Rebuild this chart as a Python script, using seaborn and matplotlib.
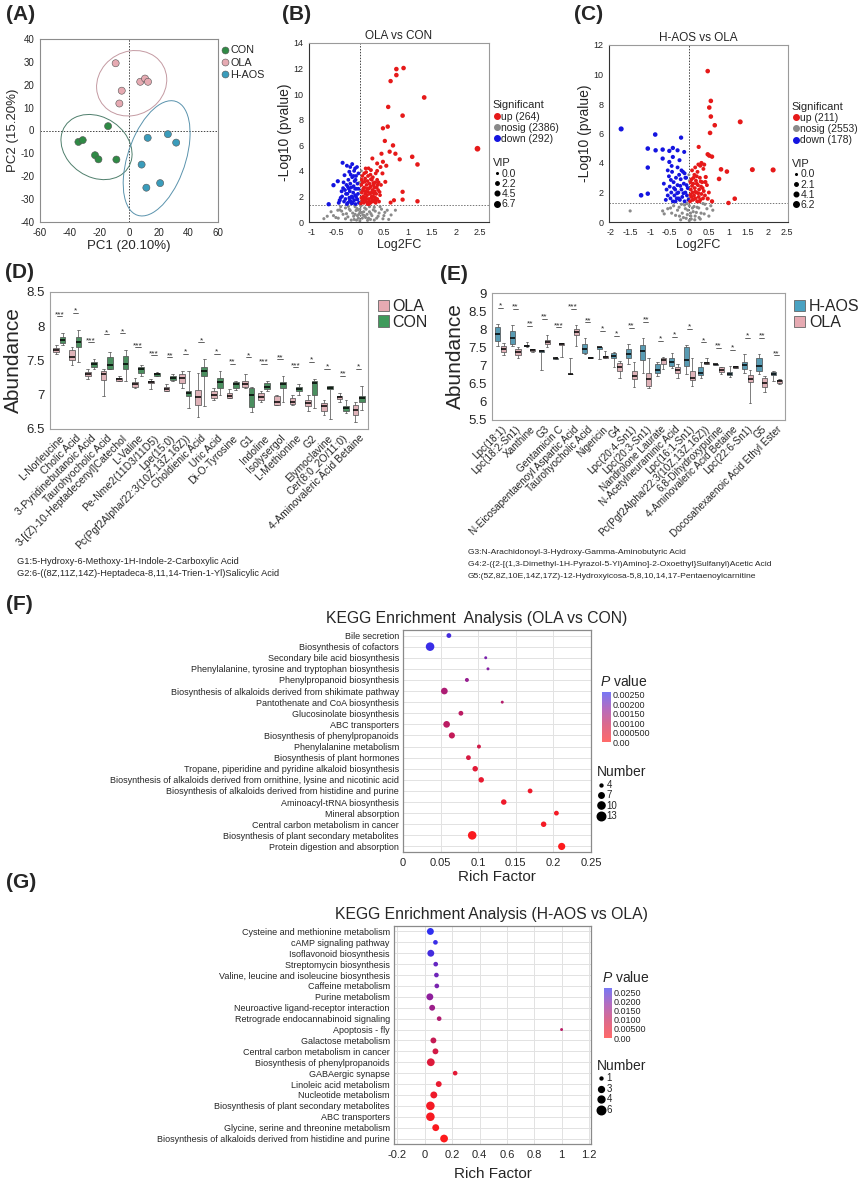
import numpy as np
import pandas as pd
import matplotlib
matplotlib.use("Agg")
import matplotlib.pyplot as plt
import seaborn as sns
from matplotlib.patches import Ellipse, Patch
from matplotlib.lines import Line2D
from matplotlib.colors import LinearSegmentedColormap, Normalize
import matplotlib.cm as cm

W, H = 865, 1182

# ---------------- panel A : PCA ----------------
pca_groups = ["CON", "OLA", "H-AOS"]
con_pc1 = [-14.1, -34.1, -31.2, -22.9, -20.6, -8.5]
con_pc2 = [1.9, -5.0, -4.2, -10.8, -12.6, -12.7]
ola_pc1 = [-9.0, 7.6, 10.8, 12.8, -4.9, -6.5]
ola_pc2 = [29.4, 21.3, 22.7, 21.3, 17.4, 11.8]
haos_pc1 = [12.6, 26.2, 31.8, 8.5, 21.0, 11.7]
haos_pc2 = [-3.2, -1.6, -5.3, -14.9, -23.0, -25.0]

# ---------------- panel B / C : volcano ([log2FC, -log10 p, VIP]) ----------------
b_counts = {"up": 264, "nosig": 2386, "down": 292}
b_vip_ticks = [0.0, 2.2, 4.5, 6.7]
b_up = [
    [0.91, 12.04, 3.0], [0.76, 11.96, 3.0], [0.76, 11.49, 3.0], [0.64, 11.02, 2.8],
    [1.34, 9.74, 3.2], [0.59, 9.0, 2.8], [0.89, 8.32, 3.0], [0.58, 7.46, 2.8],
    [0.48, 7.33, 2.6], [2.45, 5.73, 5.0], [0.69, 5.99, 2.8], [1.09, 5.1, 3.0],
    [0.62, 5.5, 2.6], [0.74, 5.34, 2.6], [0.52, 6.34, 2.6], [0.45, 5.34, 2.4],
    [1.2, 4.5, 3.0], [0.83, 4.9, 2.6], [0.55, 4.4, 2.4], [0.48, 4.71, 2.4],
    [0.36, 4.58, 2.2], [0.26, 4.97, 2.2], [0.53, 3.14, 2.2], [0.89, 2.36, 2.6],
    [0.89, 1.75, 2.6], [1.2, 1.62, 2.8], [0.71, 1.7, 2.4], [0.64, 1.52, 2.2],
    [0.47, 3.8, 2.2], [0.36, 4.0, 2.0], [0.23, 4.06, 2.0], [0.12, 4.19, 1.8],
    [0.43, 4.3, 2.0],
    [0.02, 1.45, 1.8], [0.04, 2.3, 1.8], [0.05, 1.7, 1.8], [0.06, 3.1, 1.8],
    [0.07, 2.0, 1.8], [0.08, 1.5, 1.8], [0.09, 2.7, 1.8], [0.1, 1.9, 1.8],
    [0.11, 3.4, 1.8], [0.12, 2.4, 1.8], [0.13, 1.6, 1.8], [0.14, 2.9, 1.8],
    [0.15, 2.1, 1.8], [0.16, 1.4, 1.8], [0.17, 3.6, 1.8], [0.18, 2.6, 1.8],
    [0.19, 1.8, 1.8], [0.2, 3.0, 1.8], [0.21, 2.2, 1.8], [0.22, 1.5, 1.8],
    [0.23, 2.8, 1.8], [0.24, 1.9, 1.8], [0.25, 3.3, 1.8], [0.26, 2.5, 1.8],
    [0.27, 1.6, 1.8], [0.28, 2.0, 1.8], [0.29, 2.9, 1.8], [0.3, 1.7, 1.8],
    [0.31, 2.4, 1.8], [0.32, 3.1, 1.8], [0.33, 1.5, 1.8], [0.34, 2.2, 1.8],
    [0.35, 2.7, 1.8], [0.36, 1.8, 1.8], [0.38, 2.5, 1.8], [0.4, 1.6, 1.8],
    [0.42, 2.1, 1.8], [0.44, 2.9, 1.8], [0.03, 2.9, 1.8], [0.05, 3.6, 1.8],
    [0.09, 3.8, 1.8], [0.13, 3.9, 1.8], [0.18, 4.2, 1.8], [0.22, 3.7, 1.8],
    [0.27, 3.5, 1.8], [0.33, 3.8, 1.8], [0.15, 2.6, 1.8], [0.2, 1.6, 1.8],
    [0.25, 2.0, 1.8], [0.3, 2.7, 1.8], [0.12, 1.9, 1.8], [0.07, 2.6, 1.8],
    [0.24, 2.3, 1.8], [0.18, 1.55, 1.8], [0.36, 3.3, 1.8],
    [0.03, 1.9, 1.8], [0.06, 2.45, 1.8], [0.1, 3.15, 1.8], [0.14, 1.8, 1.8],
    [0.17, 2.35, 1.8], [0.21, 2.7, 1.8], [0.26, 1.75, 1.8], [0.29, 2.25, 1.8],
    [0.32, 1.9, 1.8], [0.37, 2.9, 1.8], [0.41, 2.35, 1.8], [0.08, 1.75, 1.8],
    [0.16, 3.2, 1.8], [0.23, 3.35, 1.8], [0.28, 3.05, 1.8], [0.34, 1.7, 1.8],
    [0.39, 3.1, 1.8], [0.11, 2.2, 1.8], [0.19, 1.4, 1.8], [0.04, 3.3, 1.8],
]
b_down = [
    [-0.36, 4.63, 2.2], [-0.16, 4.53, 2.0], [-0.27, 4.4, 2.0], [-0.55, 2.88, 2.6],
    [-0.46, 3.19, 2.4], [-0.65, 1.39, 2.6], [-0.42, 1.7, 2.2], [-0.22, 3.93, 2.0],
    [-0.1, 4.19, 1.8], [-0.32, 3.66, 2.0], [-0.38, 2.4, 2.0], [-0.44, 1.5, 2.0],
    [-0.2, 4.3, 1.8],
    [-0.02, 1.5, 1.8], [-0.04, 2.2, 1.8], [-0.05, 3.0, 1.8], [-0.06, 1.8, 1.8],
    [-0.07, 2.6, 1.8], [-0.08, 3.6, 1.8], [-0.09, 1.4, 1.8], [-0.1, 2.1, 1.8],
    [-0.11, 3.2, 1.8], [-0.12, 1.7, 1.8], [-0.13, 2.8, 1.8], [-0.14, 2.3, 1.8],
    [-0.15, 1.5, 1.8], [-0.16, 3.5, 1.8], [-0.17, 2.0, 1.8], [-0.18, 2.7, 1.8],
    [-0.19, 1.6, 1.8], [-0.2, 3.0, 1.8], [-0.21, 2.4, 1.8], [-0.22, 1.9, 1.8],
    [-0.24, 3.3, 1.8], [-0.25, 1.5, 1.8], [-0.26, 2.2, 1.8], [-0.28, 2.9, 1.8],
    [-0.3, 1.8, 1.8], [-0.31, 2.5, 1.8], [-0.33, 1.6, 1.8], [-0.34, 3.1, 1.8],
    [-0.27, 1.4, 1.8], [-0.03, 3.8, 1.8], [-0.12, 4.0, 1.8], [-0.06, 4.3, 1.8],
    [-0.23, 2.6, 1.8], [-0.15, 1.9, 1.8], [-0.1, 2.6, 1.8], [-0.37, 2.0, 1.8],
    [-0.03, 2.6, 1.8], [-0.08, 2.0, 1.8], [-0.13, 3.6, 1.8], [-0.17, 1.45, 1.8],
    [-0.21, 1.7, 1.8], [-0.25, 2.75, 1.8], [-0.29, 2.2, 1.8], [-0.35, 2.65, 1.8],
    [-0.4, 1.9, 1.8], [-0.05, 1.75, 1.8], [-0.09, 3.3, 1.8], [-0.19, 3.7, 1.8],
]
b_nosig = [
    [-0.75, 0.26, 1.0], [-0.46, 0.92, 1.0], [0.57, 0.92, 1.0], [0.74, 0.92, 1.0],
    [0.16, 0.13, 1.0], [-0.3, 1.1, 1.0], [-0.2, 0.9, 1.0], [-0.1, 1.2, 1.0],
    [0.0, 1.0, 1.0], [0.1, 1.1, 1.0], [0.2, 0.8, 1.0], [0.3, 1.15, 1.0],
    [0.4, 0.7, 1.0], [-0.35, 0.6, 1.0], [-0.25, 0.4, 1.0], [-0.15, 0.7, 1.0],
    [-0.05, 0.5, 1.0], [0.05, 0.3, 1.0], [0.15, 0.6, 1.0], [0.25, 0.5, 1.0],
    [0.35, 0.3, 1.0], [-0.12, 0.2, 1.0], [0.0, 0.1, 1.0], [0.08, 0.8, 1.0],
    [-0.08, 0.9, 1.0], [0.45, 1.0, 1.0], [0.5, 0.5, 1.0], [-0.5, 0.35, 1.0],
    [0.02, 1.25, 1.0], [-0.02, 0.6, 1.0], [0.12, 0.35, 1.0], [-0.18, 0.15, 1.0],
    [0.22, 0.2, 1.0], [0.6, 0.2, 1.0], [-0.6, 0.8, 1.0], [0.28, 0.95, 1.0],
    [-0.4, 1.2, 1.0], [0.02, 1.6, 0.8], [0.01, 2.4, 0.8], [-0.01, 3.1, 0.8],
    [0.03, 4.0, 0.8], [-0.03, 0.3, 1.0], [0.06, 0.55, 1.0], [-0.07, 0.15, 1.0],
    [-0.55, 0.5, 1.0], [-0.45, 0.3, 1.0], [-0.38, 0.85, 1.0], [-0.28, 0.65, 1.0],
    [-0.22, 1.0, 1.0], [-0.13, 0.45, 1.0], [-0.06, 1.05, 1.0], [0.04, 0.75, 1.0],
    [0.09, 0.5, 1.0], [0.13, 1.0, 1.0], [0.18, 0.3, 1.0], [0.23, 0.65, 1.0],
    [0.32, 0.85, 1.0], [0.38, 0.45, 1.0], [0.42, 1.2, 1.0], [0.52, 0.75, 1.0],
    [0.65, 0.55, 1.0], [-0.68, 0.45, 1.0], [-0.3, 0.25, 1.0], [0.3, 0.15, 1.0],
    [-0.1, 0.6, 1.0], [0.1, 0.45, 1.0], [0.0, 0.75, 1.0], [-0.04, 0.95, 1.0],
    [0.2, 1.2, 1.0], [-0.24, 1.22, 1.0], [0.48, 0.25, 1.0], [-0.42, 0.95, 1.0],
]

c_counts = {"up": 211, "nosig": 2553, "down": 178}
c_vip_ticks = [0.0, 2.1, 4.1, 6.2]
c_up = [
    [0.47, 10.23, 2.8], [0.55, 8.21, 2.8], [0.51, 7.76, 2.8], [0.55, 7.15, 2.8],
    [0.65, 6.56, 2.8], [0.53, 6.04, 2.8], [1.3, 6.79, 3.4], [1.61, 3.55, 3.4],
    [2.14, 3.53, 3.6], [0.81, 3.57, 2.8], [0.96, 3.42, 2.8], [0.76, 2.92, 2.8],
    [0.47, 4.59, 2.6], [0.51, 4.5, 2.6], [0.58, 4.43, 2.6], [0.24, 5.09, 2.2],
    [0.31, 4.0, 2.2], [0.28, 3.82, 2.2], [0.38, 3.89, 2.2], [1.16, 1.58, 2.8],
    [1.0, 1.29, 2.6], [0.58, 1.4, 2.4], [0.47, 1.58, 2.2], [0.42, 3.05, 2.2],
    [0.41, 2.71, 2.2],
    [0.02, 1.4, 1.8], [0.04, 2.2, 1.8], [0.05, 1.7, 1.8], [0.06, 2.9, 1.8],
    [0.08, 2.0, 1.8], [0.09, 1.5, 1.8], [0.1, 2.6, 1.8], [0.12, 1.8, 1.8],
    [0.13, 3.2, 1.8], [0.14, 2.3, 1.8], [0.16, 1.6, 1.8], [0.17, 2.8, 1.8],
    [0.18, 2.0, 1.8], [0.2, 1.4, 1.8], [0.21, 3.4, 1.8], [0.22, 2.5, 1.8],
    [0.24, 1.7, 1.8], [0.25, 2.2, 1.8], [0.27, 3.0, 1.8], [0.28, 1.5, 1.8],
    [0.3, 2.4, 1.8], [0.31, 1.9, 1.8], [0.33, 2.7, 1.8], [0.35, 1.6, 1.8],
    [0.37, 2.1, 1.8], [0.4, 1.8, 1.8], [0.07, 3.5, 1.8], [0.11, 3.0, 1.8],
    [0.15, 3.7, 1.8], [0.19, 2.6, 1.8], [0.26, 1.4, 1.8], [0.03, 2.7, 1.8],
    [0.36, 3.6, 1.8], [0.45, 2.5, 1.8], [0.5, 2.0, 1.8], [0.23, 3.9, 1.8],
    [0.03, 1.85, 1.8], [0.07, 2.45, 1.8], [0.11, 1.55, 1.8], [0.15, 2.05, 1.8],
    [0.19, 3.1, 1.8], [0.23, 1.95, 1.8], [0.29, 2.75, 1.8], [0.34, 2.3, 1.8],
]
c_down = [
    [-1.74, 6.31, 3.6], [-0.87, 5.93, 2.8], [-0.21, 5.72, 2.4], [-1.06, 4.98, 2.8],
    [-0.86, 4.86, 2.6], [-0.68, 4.91, 2.6], [-0.42, 5.02, 2.4], [-0.3, 4.86, 2.2],
    [-0.51, 4.82, 2.4], [-1.23, 1.81, 2.8], [-1.06, 1.92, 2.6], [-1.06, 3.69, 2.6],
    [-0.51, 4.07, 2.2], [-0.68, 4.3, 2.4], [-0.42, 4.41, 2.2], [-0.25, 4.19, 2.0],
    [-0.13, 4.75, 2.0],
    [-0.02, 1.5, 1.8], [-0.04, 2.3, 1.8], [-0.06, 1.8, 1.8], [-0.08, 3.0, 1.8],
    [-0.1, 2.0, 1.8], [-0.12, 1.4, 1.8], [-0.14, 2.6, 1.8], [-0.16, 3.4, 1.8],
    [-0.18, 1.7, 1.8], [-0.2, 2.2, 1.8], [-0.22, 2.9, 1.8], [-0.24, 1.5, 1.8],
    [-0.26, 3.2, 1.8], [-0.28, 2.0, 1.8], [-0.3, 2.5, 1.8], [-0.32, 1.6, 1.8],
    [-0.34, 3.0, 1.8], [-0.36, 2.2, 1.8], [-0.38, 1.8, 1.8], [-0.4, 2.7, 1.8],
    [-0.42, 1.4, 1.8], [-0.44, 3.4, 1.8], [-0.46, 2.0, 1.8], [-0.48, 1.6, 1.8],
    [-0.5, 2.4, 1.8], [-0.52, 3.1, 1.8], [-0.55, 1.8, 1.8], [-0.58, 2.2, 1.8],
    [-0.6, 1.5, 1.8], [-0.3, 3.7, 1.8], [-0.45, 3.8, 1.8], [-0.2, 3.5, 1.8],
    [-0.1, 3.0, 1.8], [-0.65, 2.6, 1.8], [-0.55, 3.5, 1.8], [-0.35, 1.4, 1.8],
    [-0.07, 2.5, 1.8], [-0.15, 1.95, 1.8], [-0.23, 2.45, 1.8], [-0.31, 1.95, 1.8],
    [-0.39, 2.3, 1.8], [-0.47, 2.85, 1.8], [-0.27, 1.6, 1.8], [-0.12, 3.3, 1.8],
]
c_nosig = [
    [-1.51, 0.75, 1.0], [-0.68, 0.75, 1.0], [-0.64, 0.55, 1.0], [-0.55, 0.9, 1.0],
    [-0.4, 1.1, 1.0], [-0.3, 0.8, 1.0], [-0.2, 1.2, 1.0], [-0.1, 0.9, 1.0],
    [0.0, 1.1, 1.0], [0.1, 0.7, 1.0], [0.2, 1.0, 1.0], [0.3, 0.6, 1.0],
    [0.4, 1.2, 1.0], [0.5, 0.4, 1.0], [0.6, 0.8, 1.0], [-0.15, 0.3, 1.0],
    [0.05, 0.2, 1.0], [0.15, 0.4, 1.0], [-0.05, 0.5, 1.0], [0.0, 0.1, 1.0],
    [-0.25, 0.4, 1.0], [0.25, 0.3, 1.0], [0.03, 0.6, 1.0], [-0.02, 1.6, 0.8],
    [0.01, 2.2, 0.8], [0.0, 2.8, 0.8], [-0.01, 3.2, 0.8], [0.45, 0.9, 1.0],
    [-0.45, 0.6, 1.0], [0.35, 1.25, 1.0], [0.08, 0.95, 1.0], [-0.08, 0.25, 1.0],
    [-0.35, 0.45, 1.0], [-0.26, 1.0, 1.0], [-0.18, 0.6, 1.0], [-0.12, 1.15, 1.0],
    [-0.04, 0.8, 1.0], [0.04, 0.4, 1.0], [0.12, 1.05, 1.0], [0.18, 0.65, 1.0],
    [0.24, 0.95, 1.0], [0.28, 0.2, 1.0], [0.38, 0.55, 1.0], [-0.48, 0.95, 1.0],
    [0.55, 1.1, 1.0], [-0.22, 0.15, 1.0], [0.14, 0.15, 1.0], [-0.06, 1.25, 1.0],
]

# ---------------- panel D / E : box plots ([min, q1, median, q3, max]) ----------------
d_names = ["L-Norleucine", "Cholic Acid", "3-Pyridinebutanoic Acid", "Taurohyocholic Acid",
           "3-[(Z)-10-Heptadecenyl]Catechol", "L-Valine", "Pe-Nme2(11D3/11D5)", "Lpe(15:0)",
           "Pc(Pgf2Alpha/22:3(10Z,13Z,16Z))", "Choldienic Acid", "Uric Acid", "Di-O-Tyrosine",
           "G1", "Indoline", "Isolysergol", "L-Methionine", "G2", "Elymoclavine",
           "Cer(8:0_2O/11:0)", "4-Aminovaleric Acid Betaine"]
d_stars = ["***", "*", "***", "*", "*", "***", "***", "**", "*", "*", "*", "**", "*",
           "***", "**", "***", "*", "*", "**", "*"]
d_ola = [[7.60, 7.62, 7.65, 7.68, 7.72], [7.44, 7.50, 7.55, 7.65, 7.70],
         [7.23, 7.27, 7.30, 7.33, 7.37], [6.98, 7.22, 7.30, 7.35, 7.38],
         [7.20, 7.20, 7.23, 7.25, 7.28], [7.10, 7.12, 7.15, 7.18, 7.25],
         [7.08, 7.17, 7.18, 7.20, 7.23], [7.05, 7.05, 7.08, 7.12, 7.15],
         [7.10, 7.17, 7.25, 7.30, 7.35], [6.68, 6.85, 6.97, 7.07, 7.32],
         [6.92, 6.95, 7.00, 7.05, 7.10], [6.95, 6.95, 6.98, 7.02, 7.08],
         [7.10, 7.12, 7.15, 7.20, 7.30], [6.90, 6.93, 6.97, 7.02, 7.05],
         [6.85, 6.85, 6.90, 6.98, 7.00], [6.85, 6.87, 6.90, 6.95, 7.00],
         [6.77, 6.83, 6.88, 6.93, 7.00], [6.70, 6.77, 6.83, 6.88, 6.92],
         [6.90, 6.94, 6.96, 6.98, 7.03], [6.60, 6.70, 6.78, 6.85, 6.90]]
d_con = [[7.72, 7.75, 7.80, 7.85, 7.90], [7.48, 7.70, 7.77, 7.85, 7.95],
         [7.37, 7.40, 7.45, 7.48, 7.52], [7.38, 7.38, 7.43, 7.55, 7.63],
         [7.20, 7.38, 7.45, 7.57, 7.65], [7.28, 7.32, 7.37, 7.40, 7.44],
         [7.27, 7.28, 7.30, 7.32, 7.33], [7.20, 7.22, 7.25, 7.28, 7.30],
         [6.80, 6.98, 7.02, 7.06, 7.35], [6.83, 7.28, 7.35, 7.40, 7.52],
         [7.00, 7.10, 7.18, 7.25, 7.35], [7.07, 7.10, 7.15, 7.18, 7.20],
         [6.75, 6.82, 7.00, 7.10, 7.12], [7.06, 7.08, 7.12, 7.17, 7.20],
         [6.90, 7.10, 7.15, 7.18, 7.27], [7.00, 7.05, 7.08, 7.12, 7.15],
         [6.80, 7.00, 7.17, 7.20, 7.23], [6.65, 7.08, 7.10, 7.13, 7.13],
         [6.73, 6.76, 6.80, 6.84, 6.92], [6.78, 6.90, 6.95, 6.98, 7.13]]
d_notes = ["G1:5-Hydroxy-6-Methoxy-1H-Indole-2-Carboxylic Acid",
           "G2:6-((8Z,11Z,14Z)-Heptadeca-8,11,14-Trien-1-Yl)Salicylic Acid"]

e_names = ["Lpc(18:1)", "Lpc(18:2-Sn1)", "Xanthine", "G3", "Gentamicin C",
           "N-Eicosapentaenoyl Aspartic Acid", "Taurohyocholic Acid", "Nigericin", "G4",
           "Lpc(20:4-Sn1)", "Lpc(20:3-Sn1)", "Nandrolone Laurate", "N-Acetylneuraminic Acid",
           "Lpc(16:1-Sn1)", "Pc(Pgf2Alpha/22:3(10Z,13Z,16Z))", "6,8-Dihydroxypurine",
           "4-Aminovaleric Acid Betaine", "Lpc(22:6-Sn1)", "G5",
           "Docosahexaenoic Acid Ethyl Ester"]
e_stars = ["*", "**", "**", "**", "***", "***", "**", "*", "*", "**", "**", "*", "*",
           "*", "*", "**", "*", "*", "**", "**"]
e_haos = [[7.55, 7.68, 7.88, 8.05, 8.15], [7.55, 7.60, 7.75, 7.95, 8.12],
          [7.50, 7.53, 7.55, 7.57, 7.65], [6.87, 7.38, 7.40, 7.42, 7.42],
          [7.18, 7.18, 7.20, 7.22, 7.25], [6.76, 6.76, 6.77, 6.78, 7.20],
          [7.32, 7.35, 7.47, 7.60, 7.75], [7.18, 7.47, 7.50, 7.52, 7.52],
          [6.95, 7.20, 7.27, 7.35, 7.38], [7.05, 7.22, 7.33, 7.45, 7.60],
          [6.80, 7.15, 7.40, 7.57, 7.77], [6.72, 6.80, 6.87, 7.05, 7.10],
          [6.92, 7.00, 7.10, 7.22, 7.35], [6.78, 7.00, 7.15, 7.50, 7.58],
          [6.67, 6.75, 6.80, 6.95, 7.10], [7.02, 7.02, 7.03, 7.04, 7.05],
          [6.68, 6.75, 6.78, 6.82, 7.00], [6.80, 6.90, 7.02, 7.10, 7.32],
          [6.78, 6.85, 7.00, 7.20, 7.32], [6.57, 6.73, 6.77, 6.82, 6.85]]
e_ola = [[7.30, 7.37, 7.47, 7.55, 7.62], [7.20, 7.28, 7.37, 7.45, 7.50],
         [7.38, 7.40, 7.42, 7.45, 7.47], [7.50, 7.60, 7.65, 7.70, 7.85],
         [7.25, 7.58, 7.60, 7.62, 7.62], [7.55, 7.85, 7.92, 8.00, 8.12],
         [7.20, 7.20, 7.22, 7.25, 7.25], [7.22, 7.22, 7.25, 7.27, 7.40],
         [6.65, 6.85, 6.95, 7.08, 7.12], [6.42, 6.62, 6.72, 6.85, 7.10],
         [6.38, 6.45, 6.62, 6.80, 7.20], [6.90, 7.05, 7.15, 7.20, 7.25],
         [6.67, 6.80, 6.87, 6.97, 7.05], [6.45, 6.60, 6.67, 6.85, 7.20],
         [7.03, 7.03, 7.08, 7.10, 7.20], [6.78, 6.82, 6.88, 6.95, 6.97],
         [6.92, 6.93, 6.96, 6.98, 7.00], [5.98, 6.55, 6.63, 6.75, 6.88],
         [6.28, 6.42, 6.53, 6.65, 6.72], [6.50, 6.53, 6.57, 6.60, 6.62]]
e_notes = ["G3:N-Arachidonoyl-3-Hydroxy-Gamma-Aminobutyric Acid",
           "G4:2-({2-[(1,3-Dimethyl-1H-Pyrazol-5-Yl)Amino]-2-Oxoethyl}Sulfanyl)Acetic Acid",
           "G5:(5Z,8Z,10E,14Z,17Z)-12-Hydroxyicosa-5,8,10,14,17-Pentaenoylcarnitine"]

# ---------------- panel F / G : KEGG bubbles ----------------
f_path = ["Bile secretion", "Biosynthesis of cofactors", "Secondary bile acid biosynthesis",
          "Phenylalanine, tyrosine and tryptophan biosynthesis", "Phenylpropanoid biosynthesis",
          "Biosynthesis of alkaloids derived from shikimate pathway",
          "Pantothenate and CoA biosynthesis", "Glucosinolate biosynthesis", "ABC transporters",
          "Biosynthesis of phenylpropanoids", "Phenylalanine metabolism",
          "Biosynthesis of plant hormones", "Tropane, piperidine and pyridine alkaloid biosynthesis",
          "Biosynthesis of alkaloids derived from ornithine, lysine and nicotinic acid",
          "Biosynthesis of alkaloids derived from histidine and purine",
          "Aminoacyl-tRNA biosynthesis", "Mineral absorption",
          "Central carbon metabolism in cancer", "Biosynthesis of plant secondary metabolites",
          "Protein digestion and absorption"]
f_rich = [0.061, 0.036, 0.110, 0.113, 0.085, 0.055, 0.132, 0.077, 0.058, 0.065,
          0.101, 0.087, 0.096, 0.104, 0.169, 0.134, 0.204, 0.187, 0.092, 0.211]
f_p = [0.0024, 0.0025, 0.0019, 0.0018, 0.0016, 0.0013, 0.0012, 0.0011, 0.0011, 0.0010,
       0.0008, 0.0007, 0.0005, 0.0004, 0.0003, 0.0003, 0.0002, 0.0002, 0.0001, 0.00005]
f_num = [6, 13, 4, 4, 5, 9, 4, 6, 9, 8, 5, 6, 7, 7, 6, 7, 6, 7, 13, 10]

g_path = ["Cysteine and methionine metabolism", "cAMP signaling pathway",
          "Isoflavonoid biosynthesis", "Streptomycin biosynthesis",
          "Valine, leucine and isoleucine biosynthesis", "Caffeine metabolism",
          "Purine metabolism", "Neuroactive ligand-receptor interaction",
          "Retrograde endocannabinoid signaling", "Apoptosis - fly", "Galactose metabolism",
          "Central carbon metabolism in cancer", "Biosynthesis of phenylpropanoids",
          "GABAergic synapse", "Linoleic acid metabolism", "Nucleotide metabolism",
          "Biosynthesis of plant secondary metabolites", "ABC transporters",
          "Glycine, serine and threonine metabolism",
          "Biosynthesis of alkaloids derived from histidine and purine"]
g_rich = [0.041, 0.078, 0.044, 0.080, 0.085, 0.088, 0.037, 0.054, 0.105, 1.0,
          0.063, 0.078, 0.044, 0.222, 0.102, 0.066, 0.041, 0.041, 0.080, 0.141]
g_p = [0.028, 0.026, 0.025, 0.022, 0.021, 0.020, 0.018, 0.016, 0.013, 0.012,
       0.010, 0.008, 0.006, 0.005, 0.004, 0.003, 0.002, 0.0015, 0.001, 0.0005]
g_num = [4, 2, 4, 2, 2, 2, 4, 3, 2, 1, 3, 3, 5, 2, 3, 4, 6, 6, 4, 5]

# ---------------- style ----------------
sns.set_theme(style="white")
plt.rcParams["font.family"] = ["Liberation Sans", "DejaVu Sans"]
plt.rcParams["mathtext.fontset"] = "custom"
plt.rcParams["mathtext.it"] = "Liberation Sans:italic"
plt.rcParams["mathtext.rm"] = "Liberation Sans"
plt.rcParams["axes.unicode_minus"] = False

col_con, col_ola, col_haos = "#2f8a45", "#e6aab2", "#3a9cbb"
col_up, col_down, col_ns = "#e61919", "#1414e0", "#8a8a8a"
frame = "#8c8c8c"

fig = plt.figure(figsize=(W / 100, H / 100), dpi=100)


def ax_at(l, t, r, b):
    return fig.add_axes([l / W, 1 - b / H, (r - l) / W, (b - t) / H])


def style_frame(ax, color=frame, lw=0.8):
    for s in ax.spines.values():
        s.set_color(color)
        s.set_linewidth(lw)
    ax.tick_params(direction="out", length=2.5, width=0.6, color="#444444", pad=1.5)


def panel_label(x, y, s):
    fig.text(x / W, 1 - y / H, s, fontsize=15, fontweight="bold", va="center", ha="left")


# ---------------- A ----------------
axA = ax_at(40, 39, 218, 222)
dfA = pd.DataFrame({
    "PC1": con_pc1 + ola_pc1 + haos_pc1,
    "PC2": con_pc2 + ola_pc2 + haos_pc2,
    "group": ["CON"] * len(con_pc1) + ["OLA"] * len(ola_pc1) + ["H-AOS"] * len(haos_pc1),
})
pal_A = {"CON": col_con, "OLA": col_ola, "H-AOS": col_haos}
ell_col = {"CON": "#4f7f6c", "OLA": "#c49aa2", "H-AOS": "#5a93ad"}
for g, sub in dfA.groupby("group"):
    cov = np.cov(sub.PC1, sub.PC2)
    vals, vecs = np.linalg.eigh(cov)
    ang = np.degrees(np.arctan2(vecs[1, 1], vecs[0, 1]))
    k = 2.45
    axA.add_patch(Ellipse((sub.PC1.mean(), sub.PC2.mean()), 2 * k * np.sqrt(vals[1]),
                          2 * k * np.sqrt(vals[0]), angle=ang, fill=False,
                          ec=ell_col[g], lw=0.7, zorder=1))
axA.axhline(0, color="#444444", lw=0.7, ls=(0, (1.5, 1.5)), zorder=0)
axA.axvline(0, color="#444444", lw=0.7, ls=(0, (1.5, 1.5)), zorder=0)
sns.scatterplot(data=dfA, x="PC1", y="PC2", hue="group", palette=pal_A, s=26,
                edgecolor="#555555", linewidth=0.4, legend=False, ax=axA, zorder=3)
axA.set_xlim(-60, 60)
axA.set_ylim(-40, 40)
axA.set_xticks(range(-60, 61, 20))
axA.set_yticks(range(-40, 41, 10))
axA.tick_params(labelsize=7)
axA.set_xlabel("PC1 (20.10%)", fontsize=9.5, labelpad=2)
axA.set_ylabel("PC2 (15.20%)", fontsize=9.5, labelpad=1)
style_frame(axA)
hA = [Line2D([], [], marker="o", ls="", markerfacecolor=pal_A[g], markeredgecolor="#555555",
             markeredgewidth=0.4, markersize=5) for g in pca_groups]
axA.legend(hA, pca_groups, loc="upper left", bbox_to_anchor=(1.01, 0.965), frameon=False,
           fontsize=7.8, handletextpad=0.0, labelspacing=0.2, borderaxespad=0,
           handlelength=1.0, borderpad=0)
panel_label(6, 15, "(A)")


# ---------------- B / C ----------------
def volcano(ax, up, nosig, down, counts, vip_ticks, title, xlim, xticks, ylim, yticks):
    rows = ([[p[0], p[1], p[2], "nosig"] for p in nosig] +
            [[p[0], p[1], p[2], "down"] for p in down] +
            [[p[0], p[1], p[2], "up"] for p in up])
    df = pd.DataFrame(rows, columns=["fc", "logp", "vip", "sig"])
    vmax = vip_ticks[-1]
    smin, smax = 2.0, 22.0
    sns.scatterplot(data=df, x="fc", y="logp", hue="sig",
                    palette={"up": col_up, "down": col_down, "nosig": col_ns},
                    size="vip", sizes=(smin, smax), size_norm=(0, vmax),
                    linewidth=0, legend=False, ax=ax)
    ax.axhline(-np.log10(0.05), color="#777777", lw=0.7, ls=(0, (1.5, 1.5)), zorder=0)
    ax.axvline(0, color="#444444", lw=0.7, ls=(0, (1.5, 1.5)), zorder=0)
    ax.set_xlim(*xlim)
    ax.set_ylim(*ylim)
    ax.set_xticks(xticks)
    ax.set_xticklabels([f"{t:g}" for t in xticks])
    ax.set_yticks(yticks)
    ax.tick_params(labelsize=6.5)
    ax.set_title(title, fontsize=8.5, pad=3)
    ax.set_xlabel("Log2FC", fontsize=9, labelpad=2)
    ax.set_ylabel("-Log10 (pvalue)", fontsize=10, labelpad=1)
    style_frame(ax, color="#9a9a9a")
    ax.spines["left"].set_color("#333333")
    ax.spines["bottom"].set_color("#333333")
    h1 = [Line2D([], [], marker="o", ls="", color=c, markersize=4)
          for c in (col_up, col_ns, col_down)]
    l1 = [f"{k} ({counts[k]})" for k in ("up", "nosig", "down")]
    leg = ax.legend(h1, l1, title="Significant", loc="upper left", bbox_to_anchor=(1.02, 0.68),
                    frameon=False, fontsize=7.5, title_fontsize=8, handletextpad=0.05,
                    labelspacing=0.12, borderaxespad=0, handlelength=0.8, borderpad=0,
                    alignment="left")
    ax.add_artist(leg)
    h2 = [Line2D([], [], marker="o", ls="", color="black",
                 markersize=np.sqrt(smin + (smax - smin) * v / vmax) * 0.85) for v in vip_ticks]
    ax.legend(h2, [f"{v:.1f}" for v in vip_ticks], title="VIP", loc="upper left",
              bbox_to_anchor=(1.02, 0.355), frameon=False, fontsize=7.5, title_fontsize=8,
              handletextpad=0.05, labelspacing=0.02, borderaxespad=0, handlelength=0.8,
              borderpad=0, alignment="left")


axB = ax_at(309, 43, 489, 222)
volcano(axB, b_up, b_nosig, b_down, b_counts, b_vip_ticks, "OLA vs CON",
        (-1.06, 2.69), [-1, -0.5, 0, 0.5, 1, 1.5, 2, 2.5], (0, 14), range(0, 15, 2))
panel_label(282, 14, "(B)")

axC = ax_at(609, 45, 788, 222)
volcano(axC, c_up, c_nosig, c_down, c_counts, c_vip_ticks, "H-AOS vs OLA",
        (-2.05, 2.52), [-2, -1.5, -1, -0.5, 0, 0.5, 1, 1.5, 2, 2.5], (0, 12), range(0, 13, 2))
panel_label(574, 15, "(C)")


# ---------------- D / E ----------------
def boxes(ax, names, g1, s1, g2, s2, colors, stars, ylim, yticks, xfs):
    rows = []
    for n, a, b in zip(names, s1, s2):
        rows += [[n, g1, v] for v in a]
        rows += [[n, g2, v] for v in b]
    df = pd.DataFrame(rows, columns=["metabolite", "group", "abundance"])
    sns.boxplot(data=df, x="metabolite", y="abundance", hue="group", hue_order=[g1, g2],
                palette=colors, whis=(0, 100), width=0.8, gap=0.1, linewidth=0.5,
                linecolor="#4a4a4a", fliersize=0, legend=False,
                medianprops=dict(color="black", linewidth=1.1), ax=ax)
    span = ylim[1] - ylim[0]
    for i, (a, b, st) in enumerate(zip(s1, s2, stars)):
        top = max(max(a), max(b)) + 0.125 * span
        ax.plot([i - 0.17, i + 0.17], [top, top], color="#222222", lw=0.5)
        ax.text(i, top - 0.014 * span, st, ha="center", va="bottom", fontsize=6)
    ax.set_ylim(*ylim)
    ax.set_yticks(yticks)
    ax.set_yticklabels([f"{t:g}" for t in yticks])
    ax.set_xlim(-0.6, len(names) - 0.4)
    ax.set_xticks(range(len(names)))
    ax.set_xticklabels(names, rotation=45, ha="right", rotation_mode="anchor", fontsize=xfs)
    ax.tick_params(axis="y", labelsize=9.5)
    ax.set_xlabel("")
    ax.set_ylabel("Abundance", fontsize=15, labelpad=2)
    style_frame(ax, color="#a0a0a0")
    ax.tick_params(axis="x", pad=0.5)
    hs = [Patch(facecolor=colors[g], edgecolor="#666666", linewidth=0.6) for g in (g1, g2)]
    ax.legend(hs, [g1, g2], loc="upper left", bbox_to_anchor=(1.03, 0.95), frameon=False,
              fontsize=11.5, handletextpad=0.25, labelspacing=0.05, borderaxespad=0,
              handlelength=0.7, handleheight=0.7, borderpad=0)


axD = ax_at(50, 292, 368, 429)
boxes(axD, d_names, "OLA", d_ola, "CON", d_con, {"OLA": col_ola, "CON": "#3f9a5b"},
      d_stars, (6.5, 8.5), [6.5, 7, 7.5, 8, 8.5], 7.5)
panel_label(5, 273, "(D)")
for k, s in enumerate(d_notes):
    fig.text(17 / W, 1 - (561 + 12.5 * k) / H, s, fontsize=6.7, va="center")

axE = ax_at(492, 293, 785, 420)
boxes(axE, e_names, "H-AOS", e_haos, "OLA", e_ola, {"H-AOS": "#49a2c2", "OLA": col_ola},
      e_stars, (5.5, 9), [5.5, 6, 6.5, 7, 7.5, 8, 8.5, 9], 7.2)
panel_label(440, 275, "(E)")
for k, s in enumerate(e_notes):
    fig.text(468 / W, 1 - (552 + 12.3 * k) / H, s, fontsize=6.1, va="center")

# ---------------- F / G ----------------
kegg_cmap = LinearSegmentedColormap.from_list(
    "kegg", ["#ff1a1a", "#cc1a4c", "#8e1f9c", "#2f2ff0"])


def kegg(ax, paths, rich, pv, num, pmax, cb_ticks, cb_labels, nsizes, cb_box, title, title_xy,
         xlim, xticks, xpad):
    df = pd.DataFrame({"path": paths, "rich": rich, "p": pv, "num": num})
    smin, smax = 4.5, 38
    nmin, nmax = nsizes[0], nsizes[-1]
    sns.scatterplot(data=df, x="rich", y="path", hue="p", palette=kegg_cmap,
                    hue_norm=(0, pmax), size="num", sizes=(smin, smax),
                    size_norm=(nmin, nmax), linewidth=0, legend=False, ax=ax, zorder=3)
    ax.set_ylim(len(paths) - 0.5, -0.5)
    ax.set_xlim(*xlim)
    ax.set_xticks(xticks)
    ax.set_xticklabels([f"{t:g}" for t in xticks])
    ax.grid(True, color="#e2e2e2", lw=0.7)
    ax.set_axisbelow(True)
    ax.set_ylabel("")
    ax.set_xlabel("Rich Factor", fontsize=11, labelpad=xpad)
    style_frame(ax, color="#8a8a8a", lw=0.9)
    ax.tick_params(axis="y", labelsize=6.5, length=2, pad=1)
    ax.tick_params(axis="x", labelsize=8, length=2.5, pad=1.5)
    fig.text(title_xy[0] / W, 1 - title_xy[1] / H, title, fontsize=11.3, ha="center",
             va="center")
    # P value colour bar
    l, t, r, b = cb_box
    fig.text((l - 2) / W, 1 - (t - 10) / H, r"$\mathit{P}$ value", fontsize=10, va="center")
    cax = fig.add_axes([l / W, 1 - b / H, (r - l) / W, (b - t) / H])
    cb = fig.colorbar(cm.ScalarMappable(norm=Normalize(0, pmax * 1.02), cmap=kegg_cmap),
                      cax=cax)
    cb.solids.set(alpha=0.65)
    cb.outline.set_visible(False)
    cb.set_ticks(cb_ticks)
    cb.set_ticklabels(cb_labels)
    cax.tick_params(length=0, labelsize=6.5, pad=1)
    # Number legend
    hs = [Line2D([], [], marker="o", ls="", color="black",
                 markersize=np.sqrt(smin + (n - nmin) / (nmax - nmin) * (smax - smin)))
          for n in nsizes]
    ax.legend(hs, [str(n) for n in nsizes], title="Number", loc="upper left",
              bbox_to_anchor=(1.03, 0.39), frameon=False, fontsize=7, title_fontsize=10,
              handletextpad=0.2, labelspacing=0.05, borderaxespad=0, handlelength=0.8,
              borderpad=0, alignment="left")


axF = ax_at(403, 630, 591, 852)
kegg(axF, f_path, f_rich, f_p, f_num, 0.0026,
     [0, 0.0005, 0.001, 0.0015, 0.002, 0.0025],
     ["0.00", "0.000500", "0.00100", "0.00150", "0.00200", "0.00250"],
     [4, 7, 10, 13], (602, 692, 611, 742), "KEGG Enrichment  Analysis (OLA vs CON)",
     (477, 618), (0, 0.25), [0, 0.05, 0.1, 0.15, 0.2, 0.25], 2)
panel_label(6, 605, "(F)")

axG = ax_at(394, 926, 591, 1144)
kegg(axG, g_path, g_rich, g_p, g_num, 0.027,
     [0, 0.005, 0.01, 0.015, 0.02, 0.025],
     ["0.00", "0.00500", "0.0100", "0.0150", "0.0200", "0.0250"],
     [1, 3, 4, 6], (604, 988, 612, 1038), "KEGG Enrichment Analysis (H-AOS vs OLA)",
     (491, 914), (-0.225, 1.215), [-0.2, 0, 0.2, 0.4, 0.6, 0.8, 1, 1.2], 5)
panel_label(6, 882, "(G)")

fig.savefig("out.png", dpi=100, facecolor="white")
